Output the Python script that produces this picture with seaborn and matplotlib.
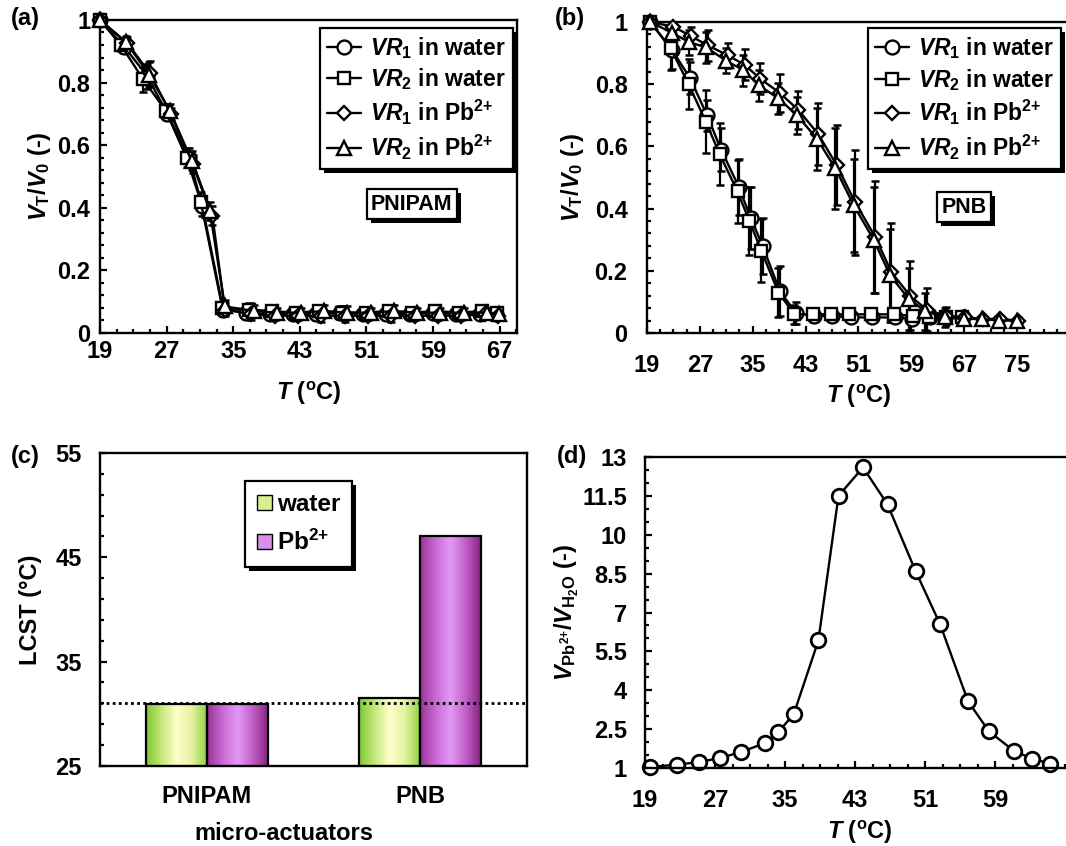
import numpy as np
import pandas as pd
import seaborn as sns
import matplotlib.pyplot as plt
import matplotlib.patheffects as pe
from matplotlib.colors import LinearSegmentedColormap
from matplotlib.patches import Patch
from matplotlib.ticker import MultipleLocator

# (a) PNIPAM micro-actuators, V_T/V_0 vs T
a_x_w1 = [19, 21.9, 24.7, 27.1, 29.7, 31.3, 33.8, 36.6, 39.4, 42.2, 45.0, 47.8, 50.6, 53.4, 56.2, 59.0, 61.8, 64.6, 66.6]
a_y_w1 = [1.0, 0.915, 0.82, 0.70, 0.56, 0.405, 0.075, 0.065, 0.06, 0.06, 0.06, 0.065, 0.06, 0.06, 0.06, 0.065, 0.06, 0.06, 0.06]
a_x_w2 = [19, 21.5, 24.2, 26.9, 29.4, 31.1, 33.7, 36.9, 39.7, 42.5, 45.3, 48.1, 50.9, 53.7, 56.5, 59.3, 62.1, 64.9, 66.7]
a_y_w2 = [1.0, 0.92, 0.81, 0.71, 0.56, 0.42, 0.08, 0.075, 0.07, 0.065, 0.07, 0.065, 0.065, 0.07, 0.065, 0.07, 0.065, 0.07, 0.065]
a_x_p1 = [19, 22.3, 25.0, 27.5, 30.2, 32.5, 34.0, 37.2, 40.0, 42.8, 45.6, 48.4, 51.2, 54.0, 56.8, 59.6, 62.4, 65.2, 66.8]
a_y_p1 = [1.0, 0.925, 0.83, 0.70, 0.54, 0.375, 0.075, 0.06, 0.055, 0.055, 0.055, 0.055, 0.055, 0.055, 0.055, 0.055, 0.055, 0.06, 0.055]
a_x_p2 = [19, 22.1, 24.9, 27.4, 30.0, 32.2, 34.0, 37.5, 40.3, 43.1, 45.9, 48.7, 51.5, 54.3, 57.1, 59.9, 62.7, 65.5, 66.9]
a_y_p2 = [1.0, 0.93, 0.825, 0.71, 0.55, 0.39, 0.085, 0.07, 0.065, 0.065, 0.07, 0.065, 0.065, 0.07, 0.065, 0.065, 0.065, 0.065, 0.06]
a_err = [0, 0.02, 0.04, 0.02, 0.03, 0.03, 0.02, 0.02, 0.015, 0.015, 0.02, 0.02, 0.015, 0.02, 0.015, 0.015, 0.015, 0.015, 0.015]

# (b) PNB micro-actuators
b_x_w1 = [19.5, 22.8, 25.5, 28.1, 30.2, 32.9, 34.7, 36.5, 39.1, 41.5, 44.3, 47.0, 49.8, 53.1, 56.6, 59.1, 61.8, 64.1, 66.8]
b_y_w1 = [1.0, 0.91, 0.82, 0.70, 0.59, 0.47, 0.37, 0.28, 0.135, 0.065, 0.055, 0.055, 0.05, 0.05, 0.05, 0.045, 0.05, 0.05, 0.05]
b_e_w1 = [0, 0.06, 0.05, 0.05, 0.07, 0.09, 0.10, 0.09, 0.08, 0.035, 0.02, 0.01, 0.01, 0.01, 0.01, 0.01, 0.01, 0.01, 0.01]
b_x_w2 = [19.5, 22.6, 25.3, 27.9, 30.0, 32.7, 34.5, 36.3, 38.9, 41.3, 44.1, 46.8, 49.6, 52.9, 56.4, 59.3, 61.6, 64.3, 66.6]
b_y_w2 = [1.0, 0.915, 0.80, 0.68, 0.575, 0.455, 0.36, 0.265, 0.13, 0.06, 0.06, 0.06, 0.06, 0.06, 0.06, 0.055, 0.05, 0.05, 0.05]
b_e_w2 = [0, 0.07, 0.08, 0.10, 0.10, 0.10, 0.11, 0.10, 0.08, 0.03, 0.02, 0.015, 0.01, 0.01, 0.01, 0.01, 0.01, 0.01, 0.01]
b_x_p1 = [19.5, 23.0, 25.6, 28.2, 31.2, 33.8, 36.1, 39.1, 41.9, 44.9, 47.7, 50.5, 53.5, 56.0, 58.8, 61.3, 64.3, 67.1, 69.9, 72.4, 75.2]
b_y_p1 = [1.0, 0.985, 0.955, 0.925, 0.893, 0.862, 0.818, 0.772, 0.717, 0.64, 0.54, 0.42, 0.31, 0.195, 0.12, 0.075, 0.055, 0.05, 0.045, 0.045, 0.04]
b_e_p1 = [0, 0.02, 0.03, 0.05, 0.04, 0.05, 0.05, 0.06, 0.06, 0.10, 0.13, 0.17, 0.18, 0.16, 0.11, 0.07, 0.03, 0.01, 0.01, 0.01, 0.01]
b_x_p2 = [19.5, 22.8, 25.4, 28.0, 31.0, 33.6, 35.9, 38.9, 41.7, 44.7, 47.5, 50.3, 53.3, 55.8, 58.6, 61.1, 64.1, 66.9, 69.7, 72.2, 75.0]
b_y_p2 = [1.0, 0.965, 0.935, 0.918, 0.875, 0.845, 0.797, 0.754, 0.70, 0.625, 0.53, 0.41, 0.30, 0.185, 0.11, 0.07, 0.05, 0.045, 0.045, 0.04, 0.04]
b_e_p2 = [0, 0.03, 0.04, 0.05, 0.04, 0.05, 0.05, 0.05, 0.06, 0.10, 0.13, 0.15, 0.17, 0.15, 0.10, 0.06, 0.03, 0.01, 0.01, 0.01, 0.01]

# (c) LCST of the two micro-actuators
c_actuators = ['PNIPAM', 'PNB']
c_water = [30.9, 31.5]
c_pb = [30.9, 47.0]
c_ref_lcst = 31.0

# (d) volume ratio Pb2+/H2O
d_x = [19.6, 22.7, 25.2, 27.6, 30.0, 32.7, 34.2, 36.0, 38.8, 41.1, 43.9, 46.7, 49.9, 52.7, 55.9, 58.3, 61.1, 63.2, 65.3]
d_y = [1.04, 1.13, 1.23, 1.39, 1.62, 1.96, 2.37, 3.09, 5.92, 11.5, 12.6, 11.17, 8.6, 6.55, 3.57, 2.41, 1.67, 1.36, 1.17]

sns.set_style('ticks', {'axes.edgecolor': 'k', 'text.color': 'k', 'axes.labelcolor': 'k',
                        'xtick.color': 'k', 'ytick.color': 'k',
                        'xtick.direction': 'in', 'ytick.direction': 'in'})
plt.rcParams['font.family'] = ['Liberation Sans', 'DejaVu Sans']
plt.rcParams['font.weight'] = 'bold'
plt.rcParams['axes.labelweight'] = 'bold'
plt.rcParams['font.size'] = 17
plt.rcParams['mathtext.fontset'] = 'custom'
plt.rcParams['mathtext.rm'] = 'Liberation Sans:bold'
plt.rcParams['mathtext.it'] = 'Liberation Sans:italic:bold'
plt.rcParams['mathtext.bf'] = 'Liberation Sans:bold'
plt.rcParams['axes.linewidth'] = 1.7

shadow = [pe.SimplePatchShadow(offset=(3, -3), shadow_rgbFace='k', alpha=1), pe.Normal()]

fig = plt.figure(figsize=(10.66, 8.46), dpi=100)
ax_a = fig.add_axes([0.0938, 0.6064, 0.3912, 0.370])
ax_b = fig.add_axes([0.6069, 0.6064, 0.3968, 0.3676])
ax_c = fig.add_axes([0.0938, 0.0946, 0.4006, 0.370])
ax_d = fig.add_axes([0.6051, 0.0922, 0.4024, 0.3676])


def draw_series(ax, x, y, err, marker, ms, label):
    ax.errorbar(x, y, yerr=err, fmt='none', ecolor='k', elinewidth=1.6, capsize=3, capthick=1.8, zorder=2)
    sns.lineplot(x=x, y=y, ax=ax, color='k', lw=1.7, marker=marker, markersize=ms,
                 markerfacecolor='white', markeredgecolor='k', markeredgewidth=1.7,
                 label=label, zorder=3, clip_on=False)


def style_ticks(ax, xpad, ypad):
    ax.tick_params(which='major', length=5, width=1.6, top=False, right=False)
    ax.tick_params(which='minor', length=3, width=1.6, top=False, right=False)
    ax.tick_params(axis='x', pad=xpad)
    ax.tick_params(axis='y', pad=ypad)


def curve_legend(ax, loc, anchor):
    leg = ax.legend(loc=loc, bbox_to_anchor=anchor, frameon=True, fancybox=False, edgecolor='k',
                    framealpha=1, handlelength=1.5, handletextpad=0.4, labelspacing=0.25,
                    borderpad=0.3, borderaxespad=0, fontsize=16.5)
    leg.get_frame().set_linewidth(1.6)
    leg.get_frame().set_path_effects(shadow)
    return leg


def tag_box(ax, x, y, s):
    t = ax.text(x, y, s, transform=ax.transAxes, ha='center', va='center', fontsize=15.5,
                bbox=dict(boxstyle='square,pad=0.2', fc='white', ec='k', lw=1.6))
    t.get_bbox_patch().set_path_effects(shadow)


labels = [r'$VR_{\mathrm{1}}$ in water', r'$VR_{\mathrm{2}}$ in water',
          r'$VR_{\mathrm{1}}$ in Pb$^{\mathrm{2}{+}}$', r'$VR_{\mathrm{2}}$ in Pb$^{\mathrm{2}{+}}$']
t_label = r'$T$ ($^{\mathrm{o}}$C)'
v_ticks = [0, 0.2, 0.4, 0.6, 0.8, 1.0]
v_labels = ['0', '0.2', '0.4', '0.6', '0.8', '1']

# ---- (a)
draw_series(ax_a, a_x_w1, a_y_w1, a_err, 'o', 10, labels[0])
draw_series(ax_a, a_x_w2, a_y_w2, a_err, 's', 9, labels[1])
draw_series(ax_a, a_x_p1, a_y_p1, a_err, 'D', 7.5, labels[2])
draw_series(ax_a, a_x_p2, a_y_p2, a_err, '^', 10, labels[3])
ax_a.set_xlim(19, 69.1)
ax_a.set_ylim(0, 1)
ax_a.set_xticks(range(19, 68, 8))
ax_a.set_yticks(v_ticks, v_labels)
ax_a.xaxis.set_minor_locator(MultipleLocator(2, offset=1))
ax_a.yaxis.set_minor_locator(MultipleLocator(0.04))
style_ticks(ax_a, 5, 7)
ax_a.set_xlabel(t_label, labelpad=12)
ax_a.set_ylabel(r'$V_{\mathrm{T}}/V_{\mathrm{0}}$ (-)', labelpad=3)
curve_legend(ax_a, 'upper right', (0.99, 0.975))
tag_box(ax_a, 0.748, 0.412, 'PNIPAM')

# ---- (b)
draw_series(ax_b, b_x_w1, b_y_w1, b_e_w1, 'o', 10, labels[0])
draw_series(ax_b, b_x_w2, b_y_w2, b_e_w2, 's', 9, labels[1])
draw_series(ax_b, b_x_p1, b_y_p1, b_e_p1, 'D', 7.5, labels[2])
draw_series(ax_b, b_x_p2, b_y_p2, b_e_p2, '^', 10, labels[3])
ax_b.set_xlim(19, 83)
ax_b.set_ylim(0, 1)
ax_b.set_xticks(range(19, 76, 8))
ax_b.set_yticks(v_ticks, v_labels)
ax_b.xaxis.set_minor_locator(MultipleLocator(2, offset=1))
ax_b.yaxis.set_minor_locator(MultipleLocator(0.04))
style_ticks(ax_b, 15, 14)
ax_b.set_xlabel(t_label, labelpad=4)
ax_b.set_ylabel(r'$V_{\mathrm{T}}/V_{\mathrm{0}}$ (-)', labelpad=6)
curve_legend(ax_b, 'upper left', (0.522, 0.98))
tag_box(ax_b, 0.75, 0.405, 'PNB')

# ---- (c)
df_c = pd.DataFrame({'actuator': c_actuators * 2,
                     'medium': ['water'] * len(c_water) + ['Pb'] * len(c_pb),
                     'lcst': c_water + c_pb})
sns.barplot(data=df_c, x='actuator', y='lcst', hue='medium', width=0.57, ax=ax_c,
            palette=['#d8ee90', '#d890ea'], edgecolor='k', linewidth=1.6, legend=False, zorder=2)
grad = np.linspace(0, 1, 256).reshape(1, -1)
cmaps = [LinearSegmentedColormap.from_list('w', ['#7cc832', '#c4e67a', '#ffffcc', '#e4f4a0', '#94d046']),
         LinearSegmentedColormap.from_list('p', ['#9a3296', '#c868d4', '#e29af4', '#c060c8', '#8a2280'])]
for cont, cm in zip(ax_c.containers, cmaps):
    for bar in cont:
        x0, w, h = bar.get_x(), bar.get_width(), bar.get_height()
        im = ax_c.imshow(grad, extent=[x0, x0 + w, 25, h], aspect='auto', cmap=cm, zorder=1.9)
        im.set_clip_path(bar)
        bar.set_facecolor('none')
ax_c.set_ylim(25, 55)
ax_c.set_xlim(-0.5, 1.5)
ax_c.axhline(c_ref_lcst, color='k', ls=(0, (1, 1.2)), lw=2, zorder=3)
ax_c.set_yticks([25, 35, 45, 55])
ax_c.yaxis.set_minor_locator(MultipleLocator(2, offset=1))
style_ticks(ax_c, 14, 13)
ax_c.tick_params(axis='x', length=0)
ax_c.set_xlabel('micro-actuators', labelpad=10)
ax_c.xaxis.label.set_x(0.43)
ax_c.set_ylabel('LCST (°C)', labelpad=10)
handles = [Patch(fc='#d8ee90', ec='k', lw=1), Patch(fc='#d890ea', ec='k', lw=1)]
leg_c = ax_c.legend(handles, ['water', r'Pb$^{\mathrm{2}{+}}$'], loc='upper left', bbox_to_anchor=(0.34, 0.91),
                    frameon=True, fancybox=False, edgecolor='k', framealpha=1, handlelength=0.6,
                    handleheight=0.6, handletextpad=0.2, labelspacing=0.55, borderpad=0.5,
                    borderaxespad=0, fontsize=17.5)
leg_c.get_frame().set_linewidth(1.6)
leg_c.get_frame().set_path_effects(shadow)

# ---- (d)
sns.lineplot(x=d_x, y=d_y, ax=ax_d, color='k', lw=1.7, marker='o', markersize=10.5,
             markerfacecolor='white', markeredgecolor='k', markeredgewidth=2, clip_on=False)
ax_d.set_xlim(19, 68)
ax_d.set_ylim(1, 13)
ax_d.set_xticks(range(19, 60, 8))
ax_d.set_yticks([1, 2.5, 4, 5.5, 7, 8.5, 10, 11.5, 13], ['1', '2.5', '4', '5.5', '7', '8.5', '10', '11.5', '13'])
ax_d.xaxis.set_minor_locator(MultipleLocator(2, offset=1))
ax_d.yaxis.set_minor_locator(MultipleLocator(0.5))
style_ticks(ax_d, 15, 13)
ax_d.set_xlabel(t_label, labelpad=5)
ax_d.set_ylabel(r'$V_{\mathrm{Pb^{2{+}}}}/V_{\mathrm{H_2O}}$ (-)', labelpad=1)

for s, (px, py) in zip(['(a)', '(b)', '(c)', '(d)'], [(25, 18), (570, 18), (25, 456), (572, 457)]):
    fig.text(px / 1066, 1 - py / 846, s, ha='center', va='center', fontsize=17, fontweight='bold')

fig.savefig('out.png', dpi=100)
